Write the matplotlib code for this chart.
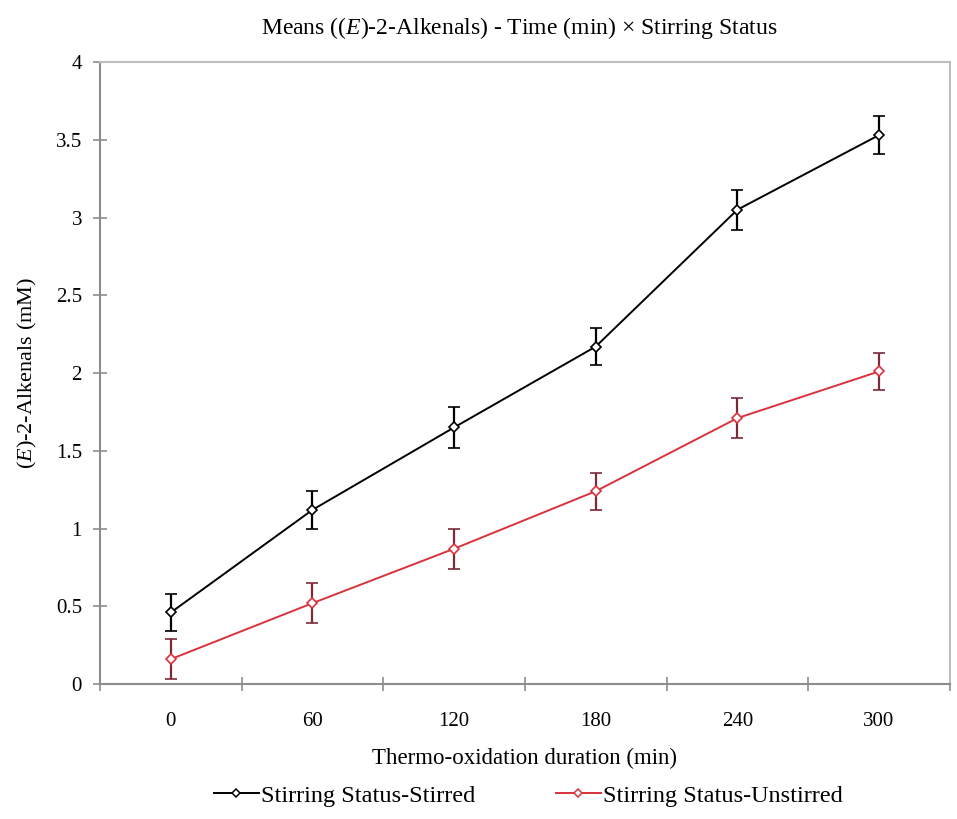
import numpy as np
import matplotlib
matplotlib.use("Agg")
import matplotlib.pyplot as plt
from matplotlib.lines import Line2D

# data
times = ["0", "60", "120", "180", "240", "300"]
stirred = [0.46, 1.12, 1.65, 2.17, 3.05, 3.53]
stirred_err = [0.12, 0.12, 0.13, 0.12, 0.13, 0.12]
unstirred = [0.16, 0.52, 0.87, 1.24, 1.71, 2.01]
unstirred_err = [0.13, 0.13, 0.13, 0.12, 0.13, 0.12]

plt.rcParams['font.family'] = ['Liberation Serif', 'DejaVu Serif']
plt.rcParams['mathtext.fontset'] = 'custom'
plt.rcParams['mathtext.rm'] = 'Liberation Serif'
plt.rcParams['mathtext.it'] = 'Liberation Serif:italic'

fig = plt.figure(figsize=(9.57, 8.19), dpi=100)
ax = fig.add_axes([0.1045, 0.1648, 0.888, 0.7595])

x = np.arange(len(times))
grey = "#8c8c8c"
red = "#d8323c"

ax.errorbar(x, stirred, yerr=stirred_err, color="black", lw=1.4,
            marker="D", ms=5, mfc="white", mec="black", mew=1.2,
            ecolor="black", elinewidth=1.6, capsize=4, capthick=1.6)
ax.errorbar(x, unstirred, yerr=unstirred_err, color=red, lw=1.4,
            marker="D", ms=5, mfc="white", mec=red, mew=1.2,
            ecolor="#7a2a38", elinewidth=1.6, capsize=4, capthick=1.6)

ax.set_xlim(-0.5, len(times) - 0.5)
ax.set_ylim(0, 4)
ax.set_yticks(np.arange(0, 4.01, 0.5))
ax.set_yticklabels(["0", "0.5", "1", "1.5", "2", "2.5", "3", "3.5", "4"])
ax.set_xticks(x)
ax.set_xticklabels(times)
ax.set_xticks(np.arange(-0.5, len(times)), minor=True)
ax.tick_params(axis="x", which="major", length=0, pad=20, labelsize=15)
ax.tick_params(axis="x", which="minor", direction="inout", length=10,
               color=grey, width=1.2)
ax.tick_params(axis="y", direction="inout", length=10, color=grey,
               width=1.2, labelsize=15, pad=8)

for s in ax.spines.values():
    s.set_color(grey)
    s.set_linewidth(1.5)
ax.spines["top"].set_color("#bdbdbd")
ax.spines["right"].set_color("#bdbdbd")

ax.set_title("Means (($\\mathit{E}$)-2-Alkenals) - Time (min) \u00d7 Stirring Status",
             fontsize=17, pad=20, x=0.493)
ax.set_xlabel("Thermo-oxidation duration (min)", fontsize=16.5, labelpad=12)
ax.set_ylabel("($\\mathit{E}$)-2-Alkenals (mM)", fontsize=16, labelpad=12)

handles = [
    Line2D([], [], color="black", lw=1.4, marker="D", ms=4.5,
           mfc="white", mec="black", mew=1.1),
    Line2D([], [], color=red, lw=1.4, marker="D", ms=4.5,
           mfc="white", mec=red, mew=1.1),
]
fig.legend(handles, ["Stirring Status-Stirred", "Stirring Status-Unstirred"],
           loc="lower center", bbox_to_anchor=(0.552, -0.012), ncol=2,
           frameon=False, fontsize=17.5, handlelength=1.85, columnspacing=3.3,
           handletextpad=0.1)

fig.savefig("out.png", dpi=100)
